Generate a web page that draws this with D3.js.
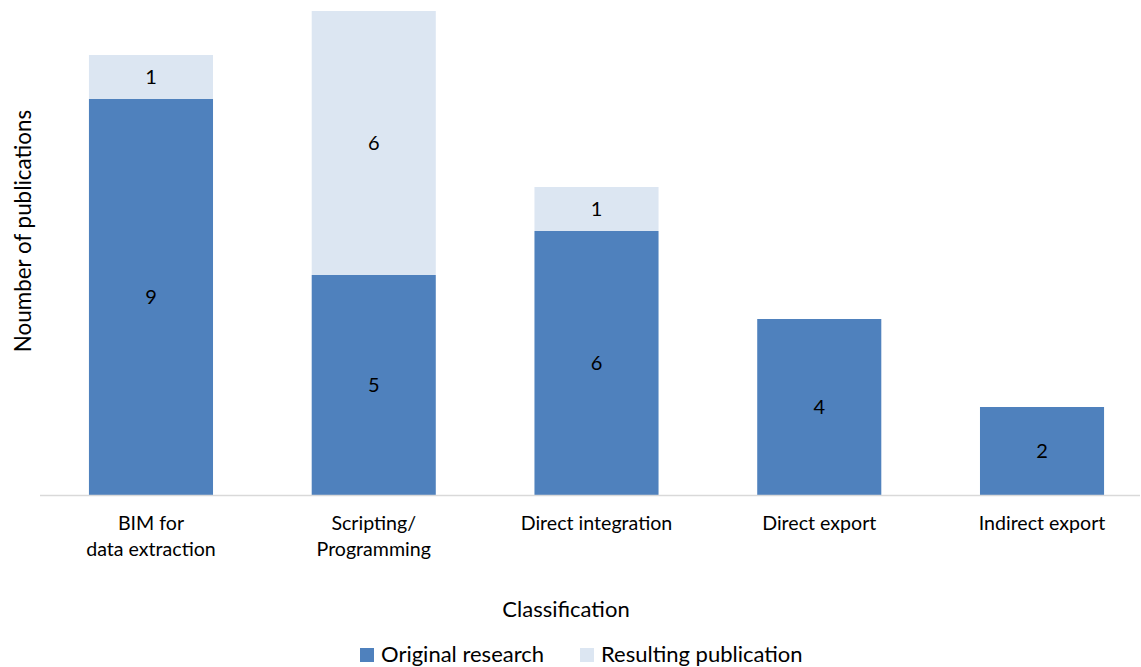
<!DOCTYPE html>
<html>
<head>
<meta charset="utf-8">
<script src="https://cdn.jsdelivr.net/npm/d3@7"></script>
<style>
  html, body { margin: 0; padding: 0; background: #fff; }
  svg text { font-family: Lato, "Open Sans", sans-serif; fill: #000; }
</style>
</head>
<body>
<svg id="chart" width="1141" height="667"></svg>
<script>
// Publications per classification
const categories = [["BIM for", "data extraction"], ["Scripting/", "Programming"], ["Direct integration"], ["Direct export"], ["Indirect export"]];
const originalResearch = [9, 5, 6, 4, 2];
const resultingPublication = [1, 6, 1, 0, 0];
const seriesNames = ["Original research", "Resulting publication"];
const seriesColors = ["#4f81bd", "#dce6f2"];

const svg = d3.select("#chart");
const baseY = 495;

const keys = categories.map(c => c.join(" "));
const x = d3.scaleBand().domain(keys).range([39.6, 1153.4]).paddingInner(0.443).paddingOuter(0.2215);
const y = d3.scaleLinear().domain([0, 11]).range([baseY, 11]);

const rows = keys.map((k, i) => ({ key: k, a: originalResearch[i], b: resultingPublication[i] }));
const stacked = d3.stack().keys(["a", "b"])(rows);

stacked.forEach((layer, li) => {
  const g = svg.append("g");
  g.selectAll("rect").data(layer).join("rect")
    .attr("x", d => x(d.data.key))
    .attr("width", x.bandwidth())
    .attr("y", d => y(d[1]))
    .attr("height", d => y(d[0]) - y(d[1]))
    .attr("fill", seriesColors[li]);
  g.selectAll("text").data(layer.filter(d => d[1] - d[0] > 0)).join("text")
    .attr("x", d => x(d.data.key) + x.bandwidth() / 2)
    .attr("y", d => (y(d[0]) + y(d[1])) / 2)
    .attr("dy", "0.35em")
    .attr("text-anchor", "middle")
    .attr("font-size", 20)
    .text(d => d[1] - d[0]);
});

// baseline
svg.append("line").attr("x1", 40).attr("x2", 1140).attr("y1", baseY + 0.5).attr("y2", baseY + 0.5)
  .attr("stroke", "#d9d9d9").attr("stroke-width", 1.5);

// category labels
categories.forEach((lines, i) => {
  const cx = x(keys[i]) + x.bandwidth() / 2;
  const t = svg.append("text").attr("text-anchor", "middle").attr("font-size", 19.6)
    .attr("x", cx).attr("y", 530);
  lines.forEach((ln, j) => t.append("tspan").attr("x", cx).attr("dy", j === 0 ? 0 : 26).text(ln));
});

// axis titles
svg.append("text").attr("text-anchor", "middle").attr("font-size", 22)
  .attr("x", 566).attr("y", 617).text("Classification");
svg.append("text").attr("text-anchor", "middle").attr("font-size", 22.4)
  .attr("transform", "translate(31,231) rotate(-90)").text("Noumber of publications");

// legend
const legendX = [360, 580];
seriesNames.forEach((name, i) => {
  svg.append("rect").attr("x", legendX[i]).attr("y", 648).attr("width", 14).attr("height", 14).attr("fill", seriesColors[i]);
  svg.append("text").attr("x", legendX[i] + 21).attr("y", 662).attr("font-size", 22).text(name);
});
</script>
</body>
</html>
